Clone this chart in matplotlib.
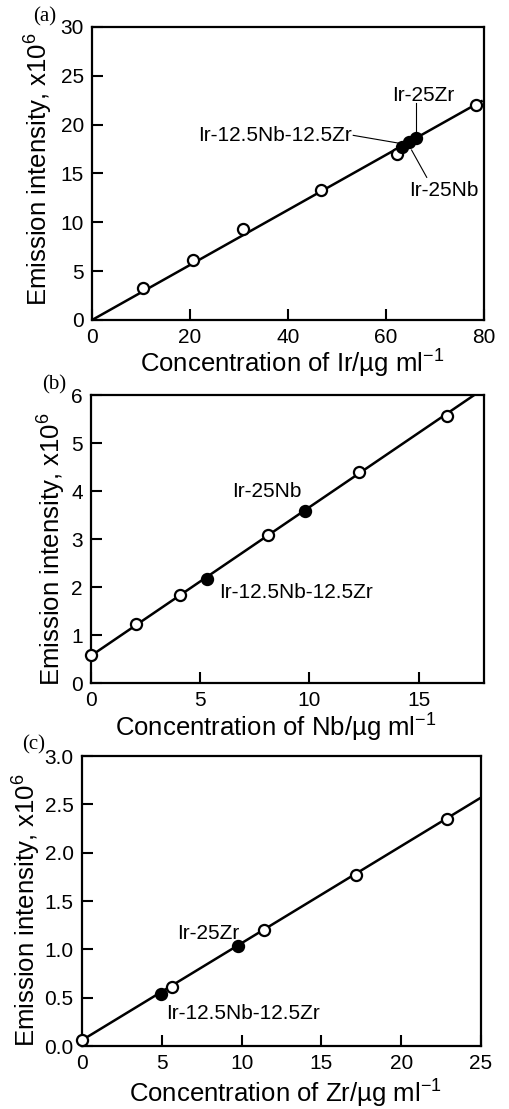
import matplotlib
matplotlib.use("Agg")
import matplotlib.pyplot as plt

plt.rcParams["font.family"] = ["Liberation Sans", "DejaVu Sans"]
plt.rcParams["mathtext.fontset"] = "custom"
plt.rcParams["mathtext.rm"] = "Liberation Sans"
plt.rcParams["mathtext.it"] = "Liberation Sans:italic"

# (a) Ir
ir_open_x = [10.3, 20.5, 30.8, 46.7, 62.3, 78.4]
ir_open_y = [3.3, 6.1, 9.3, 13.3, 17.0, 22.0]
ir_fill_x = [63.2, 64.6, 66.2]
ir_fill_y = [17.7, 18.2, 18.6]
ir_line_x = [0, 79.5]
ir_line_y = [0, 22.4]

# (b) Nb
nb_open_x = [0.0, 2.05, 4.05, 8.1, 12.25, 16.3]
nb_open_y = [0.58, 1.24, 1.84, 3.09, 4.39, 5.57]
nb_fill_x = [5.3, 9.8]
nb_fill_y = [2.16, 3.58]
nb_line_x = [0, 17.55]
nb_line_y = [0.57, 6.0]

# (c) Zr
zr_open_x = [0.0, 5.65, 11.4, 17.15, 22.85]
zr_open_y = [0.06, 0.61, 1.2, 1.77, 2.35]
zr_fill_x = [4.95, 9.75]
zr_fill_y = [0.54, 1.03]
zr_line_x = [0, 25]
zr_line_y = [0.06, 2.57]

YLABEL = "Emission intensity, x10$^{6}$"
TICK_FS = 15
LABEL_FS = 18.5
NOTE_FS = 15


def style_axes(ax):
    for s in ax.spines.values():
        s.set_linewidth(1.6)
    ax.tick_params(direction="in", length=8, width=1.5, labelsize=TICK_FS,
                   top=False, right=False, pad=6)


def draw_series(ax, lx, ly, ox, oy, fx, fy):
    ax.plot(lx, ly, color="black", lw=1.8, zorder=2)
    ax.plot(ox, oy, "o", ms=8, mfc="white", mec="black", mew=1.6,
            zorder=3, clip_on=False)
    ax.plot(fx, fy, "o", ms=8, mfc="black", mec="black", mew=1.6,
            zorder=4, clip_on=False)


fig = plt.figure(figsize=(5.09, 11.09), dpi=100)

# panel (a)
ax1 = fig.add_axes([0.181, 0.7115, 0.770, 0.2642])
draw_series(ax1, ir_line_x, ir_line_y, ir_open_x, ir_open_y, ir_fill_x, ir_fill_y)
ax1.set_xlim(0, 80)
ax1.set_ylim(0, 30)
ax1.set_xticks([0, 20, 40, 60, 80])
ax1.set_yticks([0, 5, 10, 15, 20, 25, 30])
style_axes(ax1)
ax1.set_xlabel("Concentration of Ir/\u00b5g ml$^{-1}$", fontsize=LABEL_FS)
ax1.set_ylabel(YLABEL, fontsize=LABEL_FS)
ax1.xaxis.set_label_coords(0.51, -0.095)
ax1.yaxis.set_label_coords(-0.095, 0.515)
ax1.text(67.6, 23.0, "Ir-25Zr", fontsize=NOTE_FS, ha="center", va="center")
ax1.plot([66.1, 66.1], [22.2, 18.8], color="black", lw=0.8)
ax1.text(53.0, 18.9, "Ir-12.5Nb-12.5Zr", fontsize=NOTE_FS, ha="right", va="center")
ax1.plot([53.3, 62.6], [18.9, 18.1], color="black", lw=0.8)
ax1.text(64.8, 13.3, "Ir-25Nb", fontsize=NOTE_FS, ha="left", va="center")
ax1.plot([65.2, 68.3], [17.4, 14.6], color="black", lw=0.8)
fig.text(0.088, 0.985, "(a)", fontsize=15, family="Liberation Serif",
         ha="center", va="center")

# panel (b)
ax2 = fig.add_axes([0.179, 0.3841, 0.772, 0.2597])
draw_series(ax2, nb_line_x, nb_line_y, nb_open_x, nb_open_y, nb_fill_x, nb_fill_y)
ax2.set_xlim(0, 18)
ax2.set_ylim(0, 6)
ax2.set_xticks([0, 5, 10, 15])
ax2.set_yticks([0, 1, 2, 3, 4, 5, 6])
style_axes(ax2)
ax2.set_xlabel("Concentration of Nb/\u00b5g ml$^{-1}$", fontsize=LABEL_FS)
ax2.set_ylabel(YLABEL, fontsize=LABEL_FS)
ax2.xaxis.set_label_coords(0.47, -0.10)
ax2.yaxis.set_label_coords(-0.059, 0.465)
ax2.text(8.05, 3.99, "Ir-25Nb", fontsize=NOTE_FS, ha="center", va="center")
ax2.text(5.85, 1.89, "Ir-12.5Nb-12.5Zr", fontsize=NOTE_FS, ha="left", va="center")
fig.text(0.107, 0.653, "(b)", fontsize=15, family="Liberation Serif",
         ha="center", va="center")

# panel (c)
ax3 = fig.add_axes([0.161, 0.0568, 0.784, 0.2615])
draw_series(ax3, zr_line_x, zr_line_y, zr_open_x, zr_open_y, zr_fill_x, zr_fill_y)
ax3.set_xlim(0, 25)
ax3.set_ylim(0, 3.0)
ax3.set_xticks([0, 5, 10, 15, 20, 25])
ax3.set_yticks([0, 0.5, 1.0, 1.5, 2.0, 2.5, 3.0])
ax3.set_yticklabels(["0.0", "0.5", "1.0", "1.5", "2.0", "2.5", "3.0"])
style_axes(ax3)
ax3.set_xlabel("Concentration of Zr/\u00b5g ml$^{-1}$", fontsize=LABEL_FS)
ax3.set_ylabel(YLABEL, fontsize=LABEL_FS)
ax3.xaxis.set_label_coords(0.51, -0.11)
ax3.yaxis.set_label_coords(-0.098, 0.469)
ax3.text(7.9, 1.16, "Ir-25Zr", fontsize=NOTE_FS, ha="center", va="center")
ax3.text(5.25, 0.34, "Ir-12.5Nb-12.5Zr", fontsize=NOTE_FS, ha="left", va="center")
fig.text(0.066, 0.328, "(c)", fontsize=15, family="Liberation Serif",
         ha="center", va="center")

fig.savefig("out.png", dpi=100)
